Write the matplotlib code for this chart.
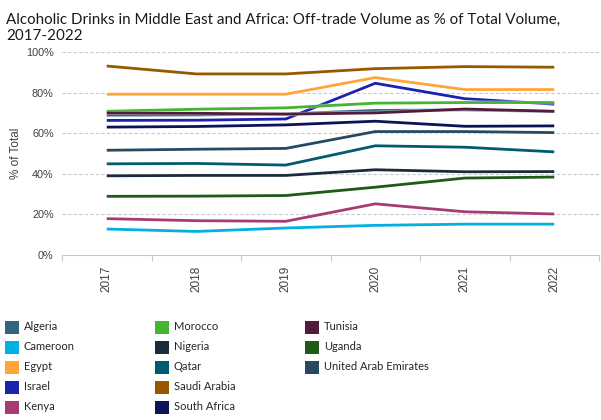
import numpy as np
import matplotlib
matplotlib.use('Agg')
import matplotlib.pyplot as plt
import matplotlib.patheffects as pe
from matplotlib.patches import Rectangle

years = ['2017', '2018', '2019', '2020', '2021', '2022']

algeria      = [68.9, 69.0, 69.5, 71.2, 71.5, 70.7]
cameroon     = [12.8, 11.6, 13.3, 14.6, 15.2, 15.2]
egypt        = [79.2, 79.2, 79.2, 87.4, 81.5, 81.5]
israel       = [66.3, 66.4, 67.0, 84.6, 77.0, 74.3]
kenya        = [17.9, 16.9, 16.6, 25.2, 21.3, 20.2]
morocco      = [70.8, 71.8, 72.5, 74.8, 75.1, 75.1]
nigeria      = [39.0, 39.2, 39.2, 42.0, 41.0, 41.1]
qatar        = [44.9, 45.1, 44.3, 53.8, 53.1, 50.8]
saudi_arabia = [93.1, 89.2, 89.2, 91.8, 92.8, 92.5]
south_africa = [63.0, 63.3, 64.1, 65.9, 63.4, 63.6]
tunisia      = [70.0, 69.8, 69.4, 70.0, 71.9, 70.8]
uganda       = [28.9, 29.0, 29.3, 33.4, 37.9, 38.4]
uae          = [51.6, 52.1, 52.5, 60.8, 60.8, 60.3]

countries = ['Algeria', 'Cameroon', 'Egypt', 'Israel', 'Kenya', 'Morocco', 'Nigeria',
             'Qatar', 'Saudi Arabia', 'South Africa', 'Tunisia', 'Uganda',
             'United Arab Emirates']
series = [algeria, cameroon, egypt, israel, kenya, morocco, nigeria, qatar,
          saudi_arabia, south_africa, tunisia, uganda, uae]
colors = ['#346580', '#00b0e0', '#ffa53c', '#1b22b0', '#a63c72', '#45b431', '#1b2b3a',
          '#005a70', '#985800', '#0c1358', '#521a3b', '#1f5a17', '#284a60']

fig = plt.figure(figsize=(6.01, 4.2), dpi=100)
ax = fig.add_axes([62/601, 1-255/420, 537/601, 203/420])

x = np.arange(len(years))
for vals, c, name in zip(series, colors, countries):
	ax.plot(x, vals, color=c, lw=2.0, solid_capstyle='butt', label=name,
			path_effects=[pe.Stroke(linewidth=3.0, foreground='white', alpha=0.5), pe.Normal()])

ax.set_xlim(-0.5, len(years)-0.5)
ax.set_ylim(0, 100)
ax.set_yticks(np.arange(0, 101, 20))
ax.set_yticklabels([f'{v}%' for v in range(0, 101, 20)], fontsize=7.8, color='#404040',
				   family='Liberation Sans')
for v in range(20, 101, 20):
	ax.axhline(v, color='#c8c8c8', lw=0.8, ls=(0, (3, 2)), zorder=0)

ax.set_xticks(x)
ax.set_xticklabels(years, rotation=90, fontsize=8.5, color='#404040', family='Liberation Sans')
ax.set_xticks(np.arange(-0.5, len(years)), minor=True)
ax.tick_params(axis='x', which='major', length=0, pad=8)
ax.tick_params(axis='x', which='minor', length=4, color='#c8c8c8', width=0.8)
ax.tick_params(axis='y', length=0, pad=6)

for s in ['top', 'right', 'left']:
	ax.spines[s].set_visible(False)
ax.spines['bottom'].set_color('#c8c8c8')
ax.spines['bottom'].set_linewidth(0.8)

ax.set_ylabel('% of Total', fontsize=8.5, color='#404040', family='Liberation Sans', labelpad=3)

fig.text(6/601, 1-27.5/420, 'Alcoholic Drinks in Middle East and Africa: Off-trade Volume as % of Total Volume,\n2017-2022',
		 fontsize=10.9, family='Lato', color='#1a1a1a', va='center', ha='left', linespacing=1.2)

# legend, drawn by hand: columns of 5, 5, 3
col_x = [5, 155, 305]
for i, (name, c) in enumerate(zip(countries, colors)):
	col, row = divmod(i, 5)
	yc = 327 + row*20
	fig.add_artist(Rectangle((col_x[col]/601, 1-(yc+6.5)/420), 14/601, 13/420,
							 transform=fig.transFigure, facecolor=c, edgecolor='none'))
	fig.text((col_x[col]+19)/601, 1-yc/420, name, fontsize=8, family='Lato', color='#262626',
			 va='center', ha='left')

fig.savefig('out.png', dpi=100)
